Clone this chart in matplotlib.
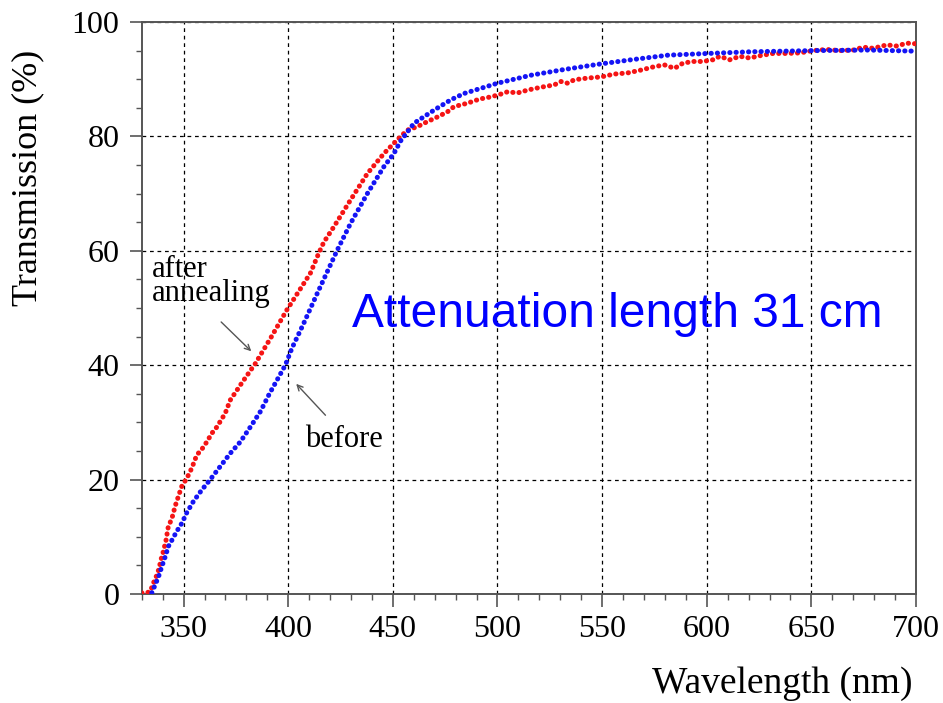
import matplotlib
matplotlib.use("Agg")
import matplotlib.pyplot as plt
from matplotlib.ticker import MultipleLocator

plt.rcParams['font.family'] = ['Liberation Serif', 'DejaVu Serif']

# before annealing (blue)
before_wl = [334.8, 336.4, 338.0, 339.6, 341.2, 342.7, 344.4, 346.8, 349.2, 351.5,
             354.7, 358.7, 362.7, 367.5, 372.3, 377.1, 381.9, 386.7, 391.0, 398.6,
             401.8, 407.0, 413.8, 423.4, 429.8, 437.8, 445.7, 450.5, 453.7, 460.1,
             469.7, 477.7, 484.0, 500.0, 516.0, 531.9, 547.9, 563.9, 581.4, 600.5,
             621.3, 650.7, 677.3, 699.8]
before_T = [0.2, 1.6, 3.0, 4.8, 6.5, 8.3, 9.4, 11.0, 12.4, 14.2,
            16.2, 18.2, 20.0, 22.3, 24.6, 26.6, 29.2, 31.9, 35.0, 40.0,
            43.0, 47.0, 52.5, 60.1, 64.8, 70.0, 74.7, 77.0, 79.2, 82.3,
            84.6, 86.4, 87.5, 89.3, 90.7, 91.7, 92.6, 93.4, 94.2, 94.5,
            94.8, 95.0, 95.1, 94.9]

# after annealing (red)
after_wl = [330.0, 332.0, 334.0, 335.9, 337.2, 338.3, 339.1, 340.3, 341.6, 342.7,
            344.4, 346.0, 348.0, 349.2, 351.5, 353.9, 356.3, 358.7, 361.1, 363.5,
            365.9, 369.9, 372.3, 378.0, 384.3, 392.0, 399.4, 401.0, 410.6, 414.6,
            417.0, 421.8, 429.8, 437.8, 445.7, 452.1, 456.9, 461.7, 464.9, 471.3,
            476.1, 479.2, 485.6, 490.4, 493.6, 496.8, 501.6, 504.8, 509.6, 514.4,
            520.8, 527.1, 530.3, 533.5, 536.7, 543.1, 549.5, 555.8, 562.2, 568.6,
            575.0, 579.8, 584.6, 588.6, 593.4, 598.2, 603.0, 606.2, 611.0, 615.8,
            620.5, 625.3, 631.7, 638.1, 644.5, 650.9, 657.2, 663.6, 670.0, 674.8,
            679.6, 686.0, 690.8, 695.6, 699.8]
after_T = [0.2, 0.2, 0.4, 2.2, 3.3, 4.5, 5.9, 7.4, 9.4, 11.8,
           13.2, 15.4, 17.6, 18.9, 20.2, 22.0, 24.3, 25.3, 26.6, 28.1,
           29.2, 31.6, 33.9, 37.0, 40.3, 45.0, 49.7, 50.6, 56.1, 59.6,
           61.5, 64.2, 68.9, 73.5, 77.0, 79.4, 81.1, 81.7, 82.3, 83.4,
           84.3, 85.2, 85.8, 86.4, 86.7, 86.9, 87.4, 87.8, 87.6, 88.1,
           88.6, 89.0, 89.6, 89.3, 89.9, 90.2, 90.4, 90.9, 91.1, 91.6,
           92.2, 92.5, 91.9, 92.8, 93.1, 93.1, 93.4, 94.0, 93.4, 94.0,
           93.7, 94.1, 94.5, 94.5, 94.6, 95.0, 95.2, 95.0, 95.1, 95.6,
           95.4, 96.0, 95.8, 96.3, 96.2]

fig = plt.figure(figsize=(9.43, 7.03), dpi=100)
ax = fig.add_axes([0.1503, 0.155, 0.8211, 0.8137])

dots = dict(linestyle=(0, (0.05, 1.2)), dash_capstyle='round', linewidth=3.6)
ax.plot(after_wl, after_T, color='#f51414', zorder=3, **dots)
ax.plot(before_wl, before_T, color='#1414f5', zorder=4, **dots)

ax.set_xlim(330, 700)
ax.set_ylim(0, 100)
ax.xaxis.set_major_locator(MultipleLocator(50))
ax.xaxis.set_minor_locator(MultipleLocator(10))
ax.yaxis.set_major_locator(MultipleLocator(20))
ax.yaxis.set_minor_locator(MultipleLocator(5))

ax.grid(True, which='major', color='black', linestyle=(0, (3, 3)), linewidth=0.9)
for s in ax.spines.values():
    s.set_color('#555555')
    s.set_linewidth(1.4)
ax.tick_params(which='major', direction='out', length=9, width=1.2, color='#555555',
               labelsize=23, pad=6)
ax.tick_params(which='minor', direction='out', length=4.5, width=1.0, color='#555555')
ax.tick_params(axis='y', which='major', pad=7)

fig.text(0.030, 0.747, 'Transmission (%)', rotation=90, fontsize=26,
         ha='center', va='center')
fig.text(0.968, 0.028, 'Wavelength (nm)', fontsize=27, ha='right', va='center')

ax.text(430.7, 46.7, 'Attenuation length 31 cm', color='#0000ff', fontsize=34.5,
        family=['Liberation Sans', 'DejaVu Sans'], va='baseline', ha='left')

# labels with arrows
ax.text(335, 51.2, 'after\nannealing', fontsize=22, ha='left', va='baseline',
        linespacing=0.8)
ax.annotate('', xy=(383.3, 42.1), xytext=(367, 47.9),
            arrowprops=dict(arrowstyle='->', color='#555555', lw=1.0))
ax.text(408, 25.7, 'before', fontsize=22, ha='left', va='baseline')
ax.annotate('', xy=(402.9, 37.1), xytext=(418.7, 30.9),
            arrowprops=dict(arrowstyle='->', color='#555555', lw=1.0))

fig.savefig('out.png', dpi=100)
